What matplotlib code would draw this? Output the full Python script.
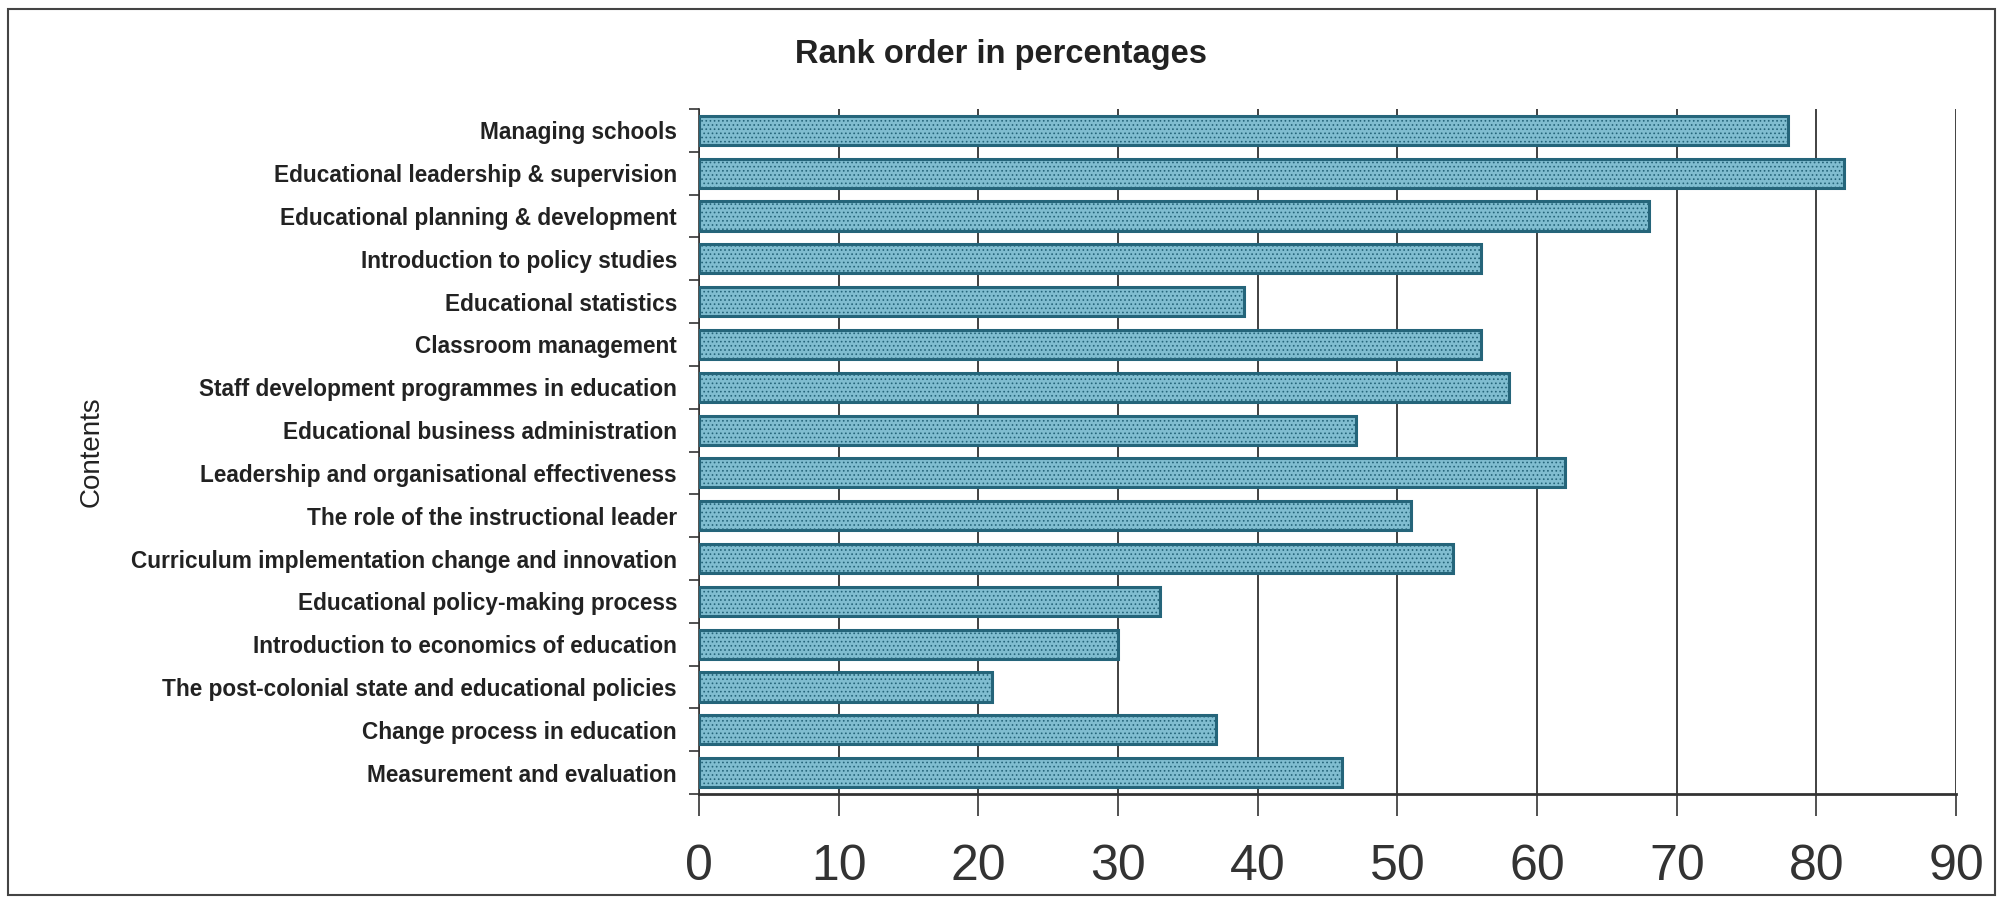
import matplotlib
matplotlib.use("Agg")
import matplotlib.pyplot as plt
from matplotlib.patches import Rectangle
import numpy as np

# data, top to bottom as in the picture
contents = [
    "Managing schools",
    "Educational leadership & supervision",
    "Educational planning & development",
    "Introduction to policy studies",
    "Educational statistics",
    "Classroom management",
    "Staff development programmes in education",
    "Educational business administration",
    "Leadership and organisational effectiveness",
    "The role of the instructional leader",
    "Curriculum implementation change and innovation",
    "Educational policy-making process",
    "Introduction to economics of education",
    "The post-colonial state and educational policies",
    "Change process in education",
    "Measurement and evaluation",
]
percent = [78, 82, 68, 56, 39, 56, 58, 47, 62, 51, 54, 33, 30, 21, 37, 46]
xticks = [0, 10, 20, 30, 40, 50, 60, 70, 80, 90]

plt.rcParams['hatch.color'] = '#3f8aa3'
plt.rcParams['hatch.linewidth'] = 0.7

fig = plt.figure(figsize=(20.05, 9.13), dpi=100)
ax = fig.add_axes([0.3487, 0.1303, 0.6269, 0.7503])

y = np.arange(len(contents))
ax.barh(y, percent, height=0.68, color='#80bdd0', edgecolor='#25657a',
        linewidth=2.2, hatch='....', zorder=3)

ax.set_ylim(len(contents) - 0.5, -0.5)
ax.set_xlim(0, 90)
ax.set_yticks(y)
ax.set_yticklabels(contents, fontsize=16.3, fontweight='bold',
                   family=['Liberation Sans', 'DejaVu Sans'], color='#222222')
ax.tick_params(axis='y', length=0, pad=16)
ax.set_yticks(np.arange(-0.5, len(contents), 1), minor=True)
ax.tick_params(axis='y', which='minor', length=7, width=1.2, color='#333333')

ax.set_xticks(xticks)
ax.set_xticklabels([str(v) for v in xticks], fontsize=36,
                   family=['Liberation Sans Narrow', 'Liberation Sans'],
                   color='#333333')
ax.tick_params(axis='x', length=16, width=1.2, color='#333333', pad=20)
ax.xaxis.grid(True, color='#333333', linewidth=1.3, zorder=0)

for s in ['top', 'right']:
    ax.spines[s].set_visible(False)
ax.spines['left'].set_color('#333333')
ax.spines['bottom'].set_color('#333333')
ax.spines['bottom'].set_linewidth(2)
ax.spines['left'].set_linewidth(1.2)

ax.set_ylabel("Contents", fontsize=20, family=['Liberation Sans', 'DejaVu Sans'],
              color='#222222')
ax.yaxis.set_label_coords(-0.473, 0.5)

fig.text(0.4995, 0.94, "Rank order in percentages", ha='center', va='center',
         fontsize=23.5, fontweight='bold', family=['Liberation Sans', 'DejaVu Sans'],
         color='#222222')

# outer frame of the chart area
fig.patches.append(Rectangle((0.004, 0.02), 0.991, 0.97, transform=fig.transFigure,
                             fill=False, edgecolor='#444444', linewidth=1.5))

fig.savefig("out.png", dpi=100, facecolor='white')
